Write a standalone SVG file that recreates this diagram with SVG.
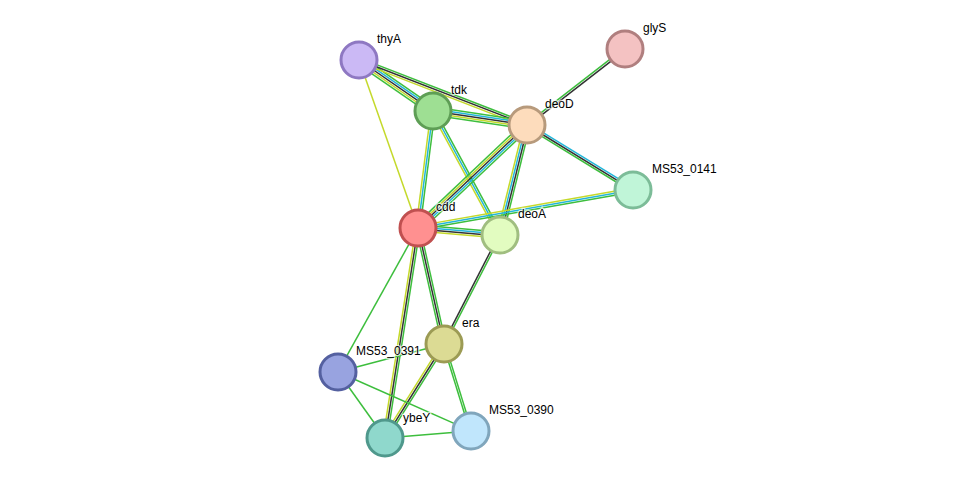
<svg xmlns="http://www.w3.org/2000/svg" width="976" height="485" viewBox="0 0 976 485">
<style>
.g{stroke:#3dbe3d;stroke-width:1.5}.k{stroke:#333;stroke-width:1.5}.b{stroke:#21b6d9;stroke-width:1.5}.y{stroke:#c4d92b;stroke-width:1.5}
circle{stroke-width:3}
text{font-family:"Liberation Sans",Arial,sans-serif;font-size:12px;fill:#000;stroke:#fff;stroke-width:2.5;paint-order:stroke;stroke-opacity:.7}
</style>
<rect width="976" height="485" fill="#fff"/>
<g id="edges">
<g transform="translate(359,60) rotate(34.6)"><line x2="90" y1="-4" y2="-4" class="g"/><line x2="90" y1="-2" y2="-2" class="b"/><line x2="90" class="k"/><line x2="90" y1="2" y2="2" class="y"/><line x2="90" y1="4" y2="4" class="g"/></g>
<g transform="translate(359,60) rotate(21.2)"><line x2="180" y1="-2" y2="-2" class="g"/><line x2="180" class="k"/><line x2="180" y1="2" y2="2" class="y"/></g>
<g transform="translate(359,60) rotate(70.6)"><line x2="178" class="y"/></g>
<g transform="translate(433,111) rotate(8.5)"><line x2="95" y1="-4" y2="-4" class="g"/><line x2="95" y1="-2" y2="-2" class="b"/><line x2="95" class="k"/><line x2="95" y1="2" y2="2" class="y"/><line x2="95" y1="4" y2="4" class="g"/></g>
<g transform="translate(433,111) rotate(97.3)"><line x2="118" y1="-2" y2="-2" class="g"/><line x2="118" class="b"/><line x2="118" y1="2" y2="2" class="y"/></g>
<g transform="translate(433,111) rotate(61.6)"><line x2="141" y1="-2" y2="-2" class="g"/><line x2="141" class="b"/><line x2="141" y1="2" y2="2" class="y"/></g>
<g transform="translate(527,125) rotate(-37.8)"><line x2="124" y1="-1" y2="-1" class="g"/><line x2="124" y1="1" y2="1" class="k"/></g>
<g transform="translate(527,125) rotate(31.5)"><line x2="124" y1="-2" y2="-2" class="b"/><line x2="124" class="k"/><line x2="124" y1="2" y2="2" class="g"/></g>
<g transform="translate(527,125) rotate(136.6)"><line x2="150" y1="-4" y2="-4" class="g"/><line x2="150" y1="-2" y2="-2" class="b"/><line x2="150" class="k"/><line x2="150" y1="2" y2="2" class="y"/><line x2="150" y1="4" y2="4" class="g"/></g>
<g transform="translate(527,125) rotate(103.8)"><line x2="113" y1="-3" y2="-3" class="g"/><line x2="113" y1="-1" y2="-1" class="k"/><line x2="113" y1="1" y2="1" class="b"/><line x2="113" y1="3" y2="3" class="y"/></g>
<g transform="translate(633,190) rotate(170)"><line x2="218" y1="-2" y2="-2" class="g"/><line x2="218" class="b"/><line x2="218" y1="2" y2="2" class="y"/></g>
<g transform="translate(418,228) rotate(4.9)"><line x2="82" y1="-3" y2="-3" class="g"/><line x2="82" y1="-1" y2="-1" class="b"/><line x2="82" y1="1" y2="1" class="k"/><line x2="82" y1="3" y2="3" class="y"/></g>
<g transform="translate(500,235) rotate(117.2)"><line x2="122" y1="-1" y2="-1" class="g"/><line x2="122" y1="1" y2="1" class="k"/></g>
<g transform="translate(418,228) rotate(77.4)"><line x2="119" y1="-2" y2="-2" class="g"/><line x2="119" class="k"/><line x2="119" y1="2" y2="2" class="g"/></g>
<g transform="translate(418,228) rotate(98.9)"><line x2="212" y1="-2" y2="-2" class="g"/><line x2="212" class="k"/><line x2="212" y1="2" y2="2" class="y"/></g>
<g transform="translate(418,228) rotate(119.1)"><line x2="165" class="g"/></g>
<g transform="translate(444,344) rotate(165.2)"><line x2="110" class="g"/></g>
<g transform="translate(444,344) rotate(122.1)"><line x2="111" y1="-2" y2="-2" class="g"/><line x2="111" class="k"/><line x2="111" y1="2" y2="2" class="y"/></g>
<g transform="translate(444,344) rotate(72.8)"><line x2="91" y1="-1" y2="-1" class="g"/><line x2="91" y1="1" y2="1" class="g"/></g>
<g transform="translate(338,372) rotate(54.5)"><line x2="81" class="g"/></g>
<g transform="translate(338,372) rotate(23.9)"><line x2="146" class="g"/></g>
<g transform="translate(385,438) rotate(-4.7)"><line x2="86" class="g"/></g>
</g>
<g id="thyA"><circle cx="359" cy="60" r="18" fill="#cbb9f5" stroke="#8e78c2"/><text x="377" y="43">thyA</text></g>
<g id="tdk"><circle cx="433" cy="111" r="18" fill="#9edf93" stroke="#5e9e55"/><text x="451" y="94">tdk</text></g>
<g id="deoD"><circle cx="527" cy="125" r="18" fill="#fddcbc" stroke="#b79a7c"/><text x="545" y="108">deoD</text></g>
<g id="glyS"><circle cx="625" cy="49" r="18" fill="#f4c2c2" stroke="#b07f7f"/><text x="643" y="32">glyS</text></g>
<g id="MS53_0141"><circle cx="633" cy="190" r="18" fill="#c0f5d8" stroke="#7cbc98"/><text x="652" y="173">MS53_0141</text></g>
<g id="cdd"><circle cx="418" cy="228" r="18" fill="#ff9090" stroke="#c05050"/><text x="436" y="211">cdd</text></g>
<g id="deoA"><circle cx="500" cy="235" r="18" fill="#e2fcc0" stroke="#a0be80"/><text x="518" y="218">deoA</text></g>
<g id="era"><circle cx="444" cy="344" r="18" fill="#dcdb94" stroke="#9c9b54"/><text x="462" y="327">era</text></g>
<g id="MS53_0391"><circle cx="338" cy="372" r="18" fill="#98a3e0" stroke="#5460a0"/><text x="356" y="355">MS53_0391</text></g>
<g id="ybeY"><circle cx="385" cy="438" r="18" fill="#8fd8cc" stroke="#4f988c"/><text x="403" y="422">ybeY</text></g>
<g id="MS53_0390"><circle cx="471" cy="431" r="18" fill="#c0e6fc" stroke="#80a6bc"/><text x="489" y="414">MS53_0390</text></g>
</svg>
